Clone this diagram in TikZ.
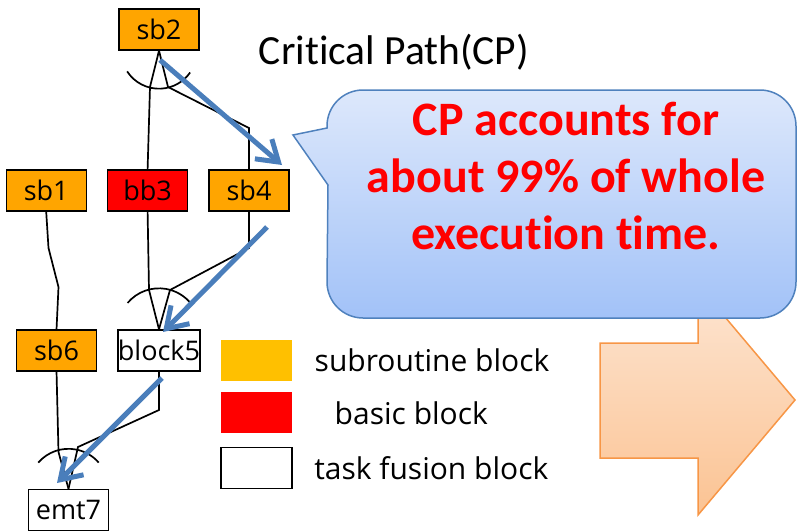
\documentclass[tikz,border=0pt]{standalone}
\usepackage{fontspec}
\setmainfont{Open Sans}
\newfontfamily\cpfont[RawFeature={-liga;-clig;-calt}]{Carlito}
\usetikzlibrary{positioning, calc, arrows.meta}

\definecolor{subcol}{HTML}{FFA500}
\definecolor{legsubcol}{HTML}{FFC000}
\definecolor{cpblue}{RGB}{74,126,187}
\definecolor{calltop}{HTML}{DDE8FB}
\definecolor{callbot}{HTML}{A2C2F8}
\definecolor{callline}{HTML}{4F81BD}
\definecolor{bigtop}{HTML}{FDE5D2}
\definecolor{bigbot}{HTML}{FBC393}
\definecolor{bigline}{HTML}{F79646}

\begin{document}
\begin{tikzpicture}[
    x=1pt, y=1pt,
    block/.style={
        rectangle, draw=black, line width=1.4pt,
        minimum width=80pt, minimum height=41pt, inner sep=0pt,
        font=\fontsize{27}{30}\selectfont
    },
    sub/.style={block, fill=subcol},
    basic/.style={block, fill=red},
    fusion/.style={block, fill=white},
    edge/.style={line width=1.7pt},
    fan/.style={line width=1.7pt},
    cp/.style={line width=5pt, cpblue, -{Straight Barb[length=20pt,width=26pt]}},
    legbox/.style={rectangle, minimum width=71pt, minimum height=41pt, inner sep=0pt},
    legtext/.style={font=\fontsize{30}{34}\selectfont}
]
\useasboundingbox (0,0) rectangle (798,-531);

% 1. Big arrow (behind the callout)
\draw[bigline, line width=1.5pt, top color=bigtop, bottom color=bigbot]
    (600,-343) -- (698,-343) -- (698,-285) -- (795,-400)
    -- (698,-515) -- (698,-458) -- (600,-458) -- cycle;

% 2. Callout
\draw[callline, line width=1.5pt, top color=calltop, bottom color=callbot]
    (327,-128) -- (293,-135) -- (328,-185) -- (327,-282)
    arc[start angle=180, end angle=270, radius=36] -- (760,-318)
    arc[start angle=270, end angle=360, radius=36] -- (796,-126)
    arc[start angle=0, end angle=90, radius=36] -- (363,-90)
    arc[start angle=90, end angle=180, radius=36] -- cycle;
\node[align=center, text=red, font=\cpfont\bfseries\fontsize{48}{57}\selectfont]
    (cpnote) at (566,-176) {CP accounts for\\about 99\% of whole\\execution time.};

\node[anchor=base, font=\cpfont\fontsize{41.5}{48}\selectfont] (cptitle) at (394,-64) {Critical Path(CP)};

% 3. Blocks
\node[sub] (sb2) at (159,-29.5) {sb2};
\node[sub] (sb4) at (249,-190.5) {sb4};
\node[basic, left=20pt of sb4] (bb3) {bb3};
\node[sub, left=20pt of bb3] (sb1) {sb1};
\node[fusion] (block5) at (159,-350.5) {block5};
\node[sub, left=20pt of block5] (sb6) {sb6};
\node[fusion] (emt7) at (68.5,-510) {emt7};

% 4. Legend
\node[legbox, fill=legsubcol] (legsub) at (256.5,-360.5) {};
\node[legbox, fill=red, below=11pt of legsub] (legbas) {};
\node[legbox, draw=black, line width=1.5pt, fill=white, below=13pt of legbas] (legfus) {};
\node[legtext, right=19pt of legsub] (legsubtext) {subroutine block};
\node[legtext, right=39pt of legbas] (legbastext) {basic block};
\node[legtext, right=18pt of legfus] (legfustext) {task fusion block};

% 5. Edges
\coordinate (f2l) at (150,-87);
\coordinate (f2r) at (168,-87);
\coordinate (k4) at (249,-128);
\draw[edge] (sb2.south) -- (f2l) -- (bb3.north);
\draw[edge] (sb2.south) -- (f2r) -- (k4) -- (sb4.north);
\draw[fan] ([shift={(213:38)}]sb2.south) arc[start angle=213, end angle=325, radius=38];

\coordinate (k1a) at (48.5,-248);
\coordinate (k1b) at (58.5,-287);
\draw[edge] (sb1.south) -- (k1a) -- (k1b) -- (sb6.north);

\coordinate (m5l) at (149,-290);
\coordinate (k4b) at (249,-248);
\coordinate (m5r) at (170,-290);
\draw[edge] (bb3.south) -- (m5l) -- (block5.north);
\draw[edge] (sb4.south) -- (k4b) -- (m5r) -- (block5.north);
\draw[fan] ([shift={(140:41)}]block5.north) arc[start angle=140, end angle=38, radius=41];

\coordinate (k5) at (159,-410);
\coordinate (m7r) at (78,-447);
\coordinate (m7l) at (58.5,-452);
\draw[edge] (block5.south) -- (k5) -- (m7r) -- (emt7.north);
\draw[edge] (sb6.south) -- (m7l) -- (emt7.north);
\draw[fan] ([shift={(139:40)}]emt7.north) arc[start angle=139, end angle=41, radius=40];

% 6. Critical path arrows
\coordinate (cp1s) at (160,-60);
\coordinate (cp1e) at (282,-165);
\coordinate (cp2s) at (267,-227);
\coordinate (cp2e) at (163,-332);
\coordinate (cp3s) at (162,-378);
\coordinate (cp3e) at (57,-483);
\draw[cp] (cp1s) -- (cp1e);
\draw[cp] (cp2s) -- (cp2e);
\draw[cp] (cp3s) -- (cp3e);

\end{tikzpicture}
\end{document}
